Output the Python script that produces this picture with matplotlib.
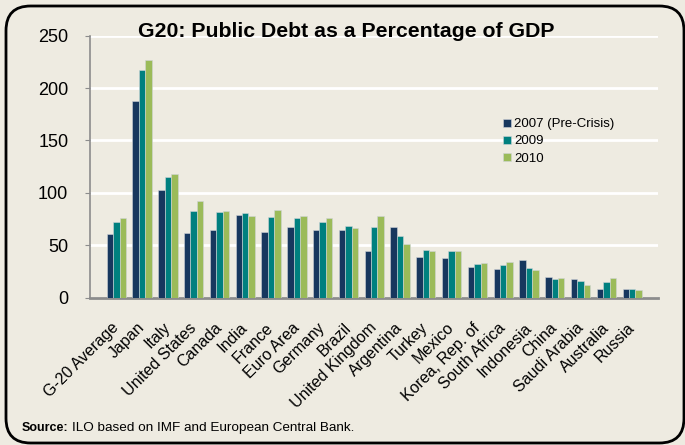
import numpy as np
import matplotlib.pyplot as plt
from matplotlib.patches import FancyBboxPatch

plt.rcParams['font.family'] = ['Liberation Sans', 'DejaVu Sans']

# Data (% of GDP)
countries = ['G-20 Average', 'Japan', 'Italy', 'United States', 'Canada', 'India',
             'France', 'Euro Area', 'Germany', 'Brazil', 'United Kingdom',
             'Argentina', 'Turkey', 'Mexico', 'Korea, Rep. of', 'South Africa',
             'Indonesia', 'China', 'Saudi Arabia', 'Australia', 'Russia']
debt_2007 = [60.5, 187.5, 102.5, 61.5, 64, 78.5, 63, 67, 64, 64.5, 44,
             67, 38.5, 37.5, 29, 27.5, 36, 20, 17.5, 8.5, 8]
debt_2009 = [72, 217, 115, 82.5, 82, 80.5, 76.5, 75.5, 72, 68, 67.5,
             59, 45, 44.5, 32, 31, 28, 18, 15.5, 14.5, 8]
debt_2010 = [76, 226.5, 118, 92, 82.5, 78, 83.5, 77.5, 76, 66.5, 77.5,
             51, 44, 44, 32.5, 34, 26.5, 19, 11.5, 19, 7.5]
series_names = ['2007 (Pre-Crisis)', '2009', '2010']
colors = ['#17375E', '#00807F', '#9BBB59']

bg = '#EEEBE1'
W, H = 685, 445

fig = plt.figure(figsize=(6.85, 4.45), dpi=100)
fig.patch.set_facecolor(bg)

# rounded border
border = FancyBboxPatch((6 / W, 2 / H), 678 / W, 437 / H,
                        boxstyle='round,pad=0,rounding_size=0.036',
                        transform=fig.transFigure, fill=False,
                        edgecolor='black', linewidth=2, mutation_aspect=W / H)
fig.patches.append(border)

ax = fig.add_axes([90 / W, 1 - 297.5 / H, 568 / W, 261.8 / H])
ax.set_facecolor(bg)

x = np.arange(len(countries))
w = 0.249
for i, vals in enumerate([debt_2007, debt_2009, debt_2010]):
    ax.bar(x + (i - 1) * w, vals, width=w, color=colors[i],
           edgecolor='#D0D4D8', linewidth=0.4, label=series_names[i], zorder=3)

ax.set_xlim(-1.02, 21.0)
ax.set_ylim(0, 250)
ax.set_yticks(range(0, 251, 50))
ax.yaxis.grid(True, color='white', linewidth=2, zorder=0)
ax.set_axisbelow(True)

ax.set_xticks(x)
ax.set_xticklabels(countries, rotation=45, ha='right', va='center',
                   rotation_mode='anchor', fontsize=11.5)
ax.tick_params(axis='x', length=0, pad=20)
ax.tick_params(axis='y', length=3.6, color='#8C8C8C', labelsize=13, pad=12)

for s in ['top', 'right']:
    ax.spines[s].set_visible(False)
ax.spines['left'].set_color('#8C8C8C')
ax.spines['bottom'].set_color('#8C8C8C')
ax.spines['bottom'].set_linewidth(2)
ax.spines['left'].set_linewidth(1.2)

leg = ax.legend(loc='upper left', bbox_to_anchor=(408 / 568, 0.705), frameon=False,
                fontsize=9.5, handlelength=0.55, handleheight=0.55,
                handletextpad=0.3, labelspacing=0.4, borderaxespad=0)

fig.text(346 / W, 1 - 36.7 / H, 'G20: Public Debt as a Percentage of GDP',
         ha='center', va='baseline', fontsize=15.3, fontweight='bold')

src = fig.text(22 / W, 1 - 430.7 / H, 'Source:', fontsize=9, fontweight='bold',
               va='baseline')
fig.canvas.draw()
bb = src.get_window_extent()
fig.text((bb.x1 + 3) / W, 1 - 430.7 / H,
         'ILO based on IMF and European Central Bank.', fontsize=9.7,
         va='baseline')

fig.savefig('out.png', dpi=100, facecolor=bg)
